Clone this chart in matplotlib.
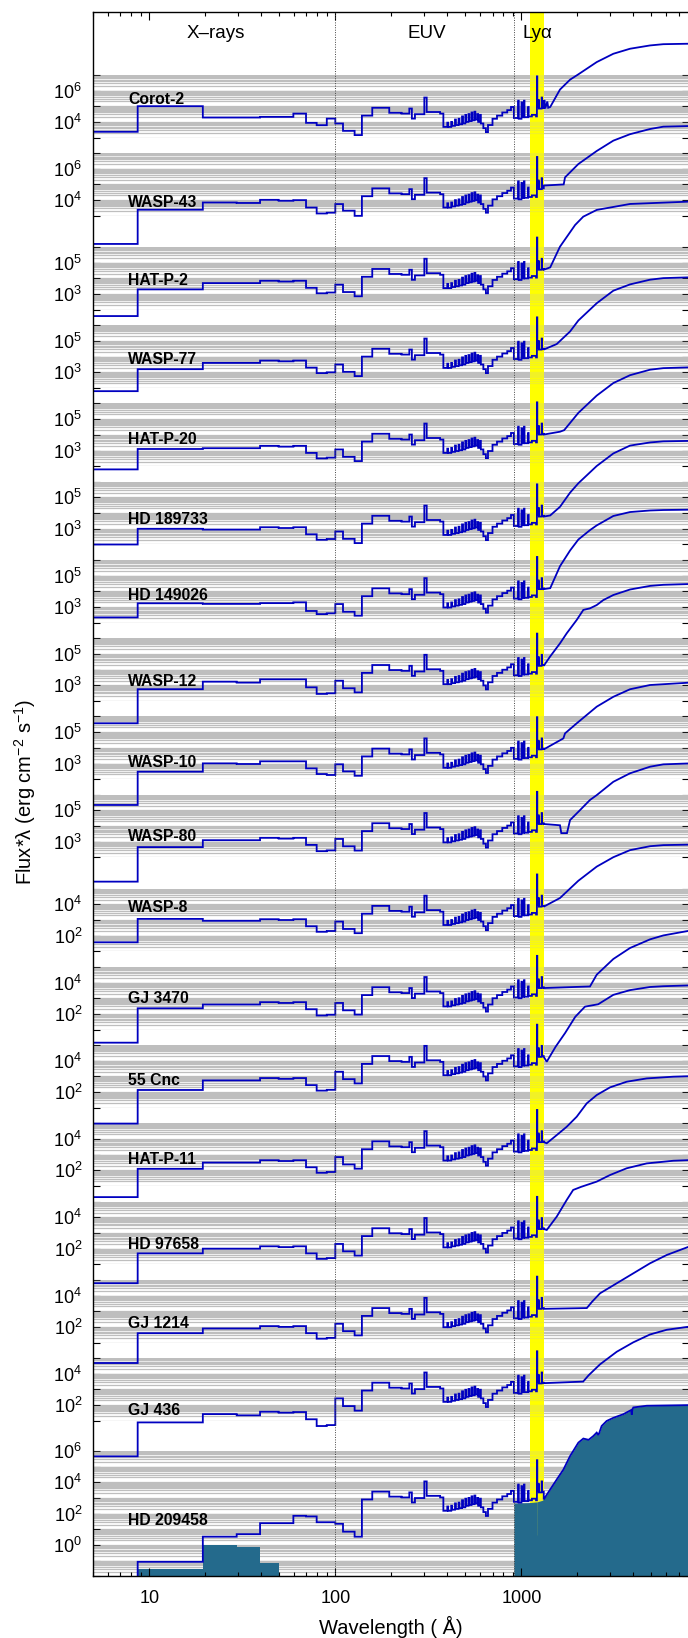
import numpy as np
import matplotlib
matplotlib.use("Agg")
import matplotlib.pyplot as plt
from matplotlib.ticker import FixedLocator, NullLocator, FuncFormatter, NullFormatter

plt.rcParams['font.family'] = ['Liberation Sans', 'DejaVu Sans']
plt.rcParams['mathtext.fontset'] = 'custom'
plt.rcParams['mathtext.rm'] = 'Liberation Sans'
plt.rcParams['mathtext.it'] = 'Liberation Sans:italic'
plt.rcParams['mathtext.bf'] = 'Liberation Sans:bold'
plt.rcParams['mathtext.default'] = 'regular'

# ---------------------------------------------------------------- data
STARS = ["Corot-2", "WASP-43", "HAT-P-2", "WASP-77", "HAT-P-20", "HD 189733",
         "HD 149026", "WASP-12", "WASP-10", "WASP-80", "WASP-8", "GJ 3470",
         "55 Cnc", "HAT-P-11", "HD 97658", "GJ 1214", "GJ 436", "HD 209458"]

# log10 range of each panel and the decades that carry a label
Y_LO = [3, 3, 2, 2, 2, 2, 2, 2, 2, 2, 1, 1, 1, 1, 1, 1, 1, -2]
Y_HI = [7, 7, 6, 6, 6, 6, 6, 6, 6, 6, 5, 5, 5, 5, 5, 5, 5, 6]
Y_LABELED = [[4, 6], [4, 6], [3, 5], [3, 5], [3, 5], [3, 5], [3, 5], [3, 5],
             [3, 5], [3, 5], [2, 4], [2, 4], [2, 4], [2, 4], [2, 4], [2, 4],
             [2, 4], [0, 2, 4, 6]]

# X-ray and short-EUV bins (Angstrom), log10 flux per star
XRAY_EDGES = [5, 8.66, 19.4, 29.5, 39.4, 49.6, 59.5, 69.6, 79.4, 90, 100,
              110, 127, 139]
XRAY_LOGF = [
    [3.37, 5.00, 4.28, 4.28, 4.32, 4.32, 4.53, 3.94, 3.79, 4.21, 3.90, 3.43, 3.16],
    [1.21, 3.39, 3.85, 3.82, 4.02, 3.96, 4.00, 3.53, 3.15, 3.20, 3.75, 3.33, 3.00],
    [1.60, 3.30, 3.70, 3.70, 3.85, 3.80, 3.85, 3.40, 3.05, 3.10, 3.60, 3.13, 2.86],
    [1.80, 3.20, 3.60, 3.60, 3.75, 3.70, 3.75, 3.30, 2.95, 3.00, 3.50, 3.03, 2.76],
    [1.80, 3.10, 3.15, 3.15, 3.30, 3.25, 3.30, 2.85, 2.50, 2.55, 3.07, 2.60, 2.33],
    [2.00, 3.00, 2.95, 2.95, 3.10, 3.05, 3.10, 2.65, 2.30, 2.35, 2.83, 2.36, 2.09],
    [2.34, 3.24, 3.20, 3.20, 3.25, 3.25, 3.30, 2.75, 2.55, 2.60, 3.19, 2.70, 2.45],
    [0.58, 2.75, 3.23, 3.17, 3.38, 3.38, 3.38, 2.87, 2.45, 2.49, 3.29, 2.81, 2.55],
    [0.36, 2.48, 3.01, 2.97, 3.14, 3.14, 3.14, 2.69, 2.33, 2.27, 2.95, 2.50, 2.22],
    [0.46, 2.66, 3.10, 3.10, 3.25, 3.20, 3.25, 2.80, 2.40, 2.45, 3.18, 2.71, 2.44],
    [1.58, 3.07, 2.95, 2.95, 3.05, 3.00, 3.05, 2.60, 2.25, 2.30, 2.90, 2.43, 2.16],
    [0.17, 2.36, 2.60, 2.60, 2.75, 2.70, 2.75, 2.30, 1.90, 1.95, 2.70, 2.23, 1.96],
    [0.00, 2.14, 2.75, 2.75, 2.90, 2.85, 2.90, 2.45, 2.10, 2.15, 3.30, 2.83, 2.56],
    [0.30, 2.10, 2.50, 2.50, 2.65, 2.60, 2.65, 2.20, 1.85, 1.90, 2.85, 2.38, 2.11],
    [-0.20, 1.70, 2.00, 2.00, 2.15, 2.10, 2.15, 1.70, 1.35, 1.40, 2.30, 1.83, 1.56],
    [-0.30, 1.60, 1.90, 1.90, 2.05, 2.00, 2.05, 1.60, 1.25, 1.30, 2.20, 1.73, 1.46],
    [-1.26, 0.90, 1.43, 1.35, 1.58, 1.52, 1.56, 1.10, 0.67, 0.73, 2.43, 1.94, 1.65],
    [-2.60, -1.07, 0.53, 0.69, 1.39, 1.39, 1.86, 1.82, 1.45, 1.45, 1.35, 0.85, 0.53],
]

# EUV / FUV bins shared by all stars, log10 flux relative to each EUV_LEVEL
EUV_EDGES = [139, 158, 195, 227, 250, 258, 268, 301, 310, 366, 381, 400, 404,
             420, 424, 440, 445, 460, 465, 480, 486, 500, 505, 520, 526, 540,
             546, 560, 566, 580, 586, 600, 606, 625, 645, 662, 700, 740, 790,
             840, 880, 912, 962, 968, 1002, 1008, 1034, 1040, 1088, 1094,
             1140, 1200, 1213, 1219, 1236, 1242, 1286, 1292, 1320]
EUV_REL = [0.50, 1.00, 0.68, 0.63, 0.95, 0.31, 0.59, 1.65, 0.73, 0.63,
           -0.22, 0.05, -0.22, 0.10, -0.15, 0.25, -0.10, 0.30, -0.05, 0.45,
           0.00, 0.55, 0.10, 0.60, 0.15, 0.70, 0.20, 0.75, 0.25, 0.60,
           0.10, 0.55, 0.00, -0.30, -0.55, -0.10, 0.30, 0.50, 0.70, 0.85,
           1.05, 0.35, 1.45, 0.30, 1.35, 0.40, 1.45, 0.40, 1.05, 0.45,
           0.55, 0.45, 3.00, 1.05, 1.50, 0.95, 1.65, 1.00]
EUV_LEVEL = [3.90, 3.75, 3.60, 3.50, 3.07, 2.83, 3.19, 3.29, 2.95, 3.18, 2.90,
             2.70, 3.30, 2.85, 2.30, 2.20, 2.43, 2.40]

# near-UV / optical continuum of each star: wavelength (A), log10 flux
OPT_WAVE = [
    [1320, 1330, 1345, 1380, 1395, 1430, 1614, 1828, 2026, 2543, 3124, 3840, 4920, 5800, 8000],
    [1320, 1690, 1718, 2026, 2543, 3124, 3840, 4918, 5800, 8000],
    [1320, 1430, 1614, 1946, 2152, 2543, 3840, 8000],
    [1320, 1550, 1828, 2026, 2543, 3124, 3840, 4920, 5800, 8000],
    [1320, 1614, 1700, 2026, 2543, 3124, 3840, 4920, 5800, 8000],
    [1320, 1430, 1614, 1828, 2026, 2543, 3124, 3840, 4920, 5800, 8000],
    [1320, 1430, 1614, 1828, 2026, 2340, 2543, 3124, 3840, 4920, 5800, 8000],
    [1320, 1426, 1614, 1754, 1985, 2155, 2339, 2543, 2762, 3124, 3840, 4920, 5800, 8000],
    [1320, 1683, 1718, 1985, 2247, 2543, 3124, 3840, 4918, 8000],
    [1320, 1614, 1640, 1760, 1828, 2070, 2339, 2543, 3124, 3840, 4918, 5800, 8000],
    [1320, 1614, 1828, 2026, 2543, 3124, 3840, 4920, 5800, 8000],
    [1320, 2340, 2543, 3124, 3840, 4920, 5800, 8000],
    [1320, 1370, 1530, 1720, 1950, 2200, 2590, 3124, 3840, 4920, 5800, 8000],
    [1320, 1370, 1550, 1754, 1985, 2247, 2543, 2998, 3686, 4722, 6564, 8000],
    [1320, 1370, 1550, 1754, 1900, 2100, 2543, 2998, 3686, 4722, 6564, 8000],
    [1320, 2250, 2400, 2650, 3258, 3998, 4918, 6050, 8000],
    [1320, 2150, 2300, 2650, 3258, 3998, 4918, 6050, 8000],
    [1320, 1370, 1550, 1683, 1828, 2026, 2155, 2300, 2438, 2543, 2600, 2703,
     2875, 3124, 3535, 3900, 3924, 3950, 4000, 4722, 8000],
]
OPT_LOGF = [
    [4.85, 5.40, 4.85, 5.30, 4.90, 4.95, 6.06, 6.69, 7.03, 7.81, 8.34, 8.66, 8.87, 8.95, 8.98],
    [4.93, 5.00, 5.45, 6.30, 7.13, 7.79, 8.20, 8.53, 8.68, 8.72],
    [4.55, 4.70, 6.02, 7.40, 7.93, 8.36, 8.74, 8.89],
    [4.45, 4.80, 5.60, 6.30, 7.40, 8.20, 8.60, 8.90, 9.00, 9.05],
    [4.02, 4.20, 4.30, 5.40, 6.50, 7.30, 7.80, 8.15, 8.25, 8.30],
    [3.78, 3.85, 4.40, 5.30, 5.90, 7.00, 7.80, 8.30, 8.50, 8.57, 8.60],
    [4.14, 4.20, 5.60, 6.60, 7.30, 7.90, 8.20, 8.80, 9.05, 9.15, 9.18, 9.20],
    [4.24, 4.82, 5.67, 6.31, 7.16, 7.80, 7.90, 8.11, 8.43, 8.75, 9.10, 9.33, 9.40, 9.45],
    [3.90, 4.60, 4.92, 5.56, 6.09, 6.62, 7.25, 7.73, 8.00, 8.15],
    [4.13, 4.05, 3.55, 3.55, 4.38, 5.02, 5.66, 5.97, 6.82, 7.36, 7.78, 7.93, 7.99],
    [3.85, 4.40, 5.00, 5.50, 6.40, 7.00, 7.45, 7.70, 7.77, 7.80],
    [3.65, 3.75, 4.50, 5.50, 6.20, 6.75, 7.00, 7.30],
    [4.25, 3.94, 4.90, 5.77, 6.80, 7.45, 7.60, 8.20, 8.50, 8.70, 8.75, 8.80],
    [3.80, 3.73, 4.25, 4.78, 5.42, 6.27, 6.80, 7.29, 7.65, 7.86, 7.97, 8.00],
    [3.25, 3.19, 4.04, 5.10, 5.74, 5.94, 6.27, 6.69, 7.12, 7.43, 7.60, 7.64],
    [3.15, 3.20, 3.60, 4.14, 4.78, 5.41, 6.05, 6.58, 7.12],
    [3.40, 3.50, 3.90, 4.60, 5.40, 6.00, 6.50, 6.80, 7.00],
    [2.90, 3.20, 4.17, 4.80, 5.66, 6.52, 6.78, 6.70, 6.94, 7.16, 7.00, 7.58,
     7.90, 8.10, 8.33, 8.60, 8.30, 8.60, 8.76, 8.87, 8.91],
]

# log10 baseline height of each star's name label
NAME_LOGF = [5.12, 3.54, 3.60, 3.50, 3.40, 3.30, 3.44, 2.95, 2.80, 3.06, 3.52,
             2.67, 2.45, 2.40, 2.00, 1.90, 1.37, 1.28]

# HD 209458: photospheric model and X-ray band fluxes (filled)
PHOT_WAVE = [912, 1100, 1214.5, 1215.0, 1216.3, 1216.8, 1300, 1370, 1550,
             1683, 1828, 2026, 2155, 2300, 2438, 2543, 2600, 2703, 2875, 3124,
             3535, 3900, 3924, 3950, 4000, 4722, 8000]
PHOT_LOGF = [2.67, 2.70, 2.75, 0.64, 0.64, 2.75, 2.85, 3.20, 4.17, 4.80, 5.66,
             6.52, 6.78, 6.70, 6.94, 7.16, 7.00, 7.58, 7.90, 8.10, 8.33, 8.60,
             8.30, 8.60, 8.76, 8.87, 8.91]
XBAR_EDGES = [8.66, 19.4, 29.5, 39.4, 49.6]
XBAR_LOGF = [-1.54, 0.00, -0.13, -1.13]

LYA_BAND = (1110, 1330)
X_RANGE = (5, 8000)

# ---------------------------------------------------------------- style
BLUE = '#0000c0'
TEAL = '#246a8c'
GRID = '#bebebe'
YELLOW = '#ffff00'

W, H = 688, 1638
fig = plt.figure(figsize=(W / 100, H / 100), dpi=100)

X0, X1 = 93.3, 689.3      # frame left/right (px)
T0, B0 = 12.3, 1575.7     # frame top/bottom (px from top)
DEC = 15.7                # px per decade
PITCH = 78.24
P0 = [184.7 + i * PITCH for i in range(17)] + [1545.0]


def rect(left, top, right, bottom):
    return [left / W, 1 - bottom / H, (right - left) / W, (bottom - top) / H]


# background: Lyman-alpha band
bg = fig.add_axes(rect(X0, T0, X1, B0), zorder=0)
bg.set_xscale('log')
bg.set_xlim(*X_RANGE)
bg.set_ylim(0, 1)
bg.axvspan(*LYA_BAND, color=YELLOW, lw=0)
bg.set_axis_off()

# frame on top with the wavelength axis
fr = fig.add_axes(rect(X0, T0, X1, B0), zorder=10)
fr.patch.set_visible(False)
fr.set_xscale('log')
fr.set_xlim(*X_RANGE)
fr.set_ylim(0, 1)
fr.yaxis.set_major_locator(NullLocator())
fr.xaxis.set_major_locator(FixedLocator([10, 100, 1000]))
fr.xaxis.set_major_formatter(FuncFormatter(lambda v, p: f"{v:g}"))
fr.xaxis.set_minor_locator(FixedLocator(
    [m * 10.0 ** k for k in range(0, 4) for m in range(2, 10)
     if X_RANGE[0] <= m * 10.0 ** k <= X_RANGE[1]]))
fr.xaxis.set_minor_formatter(NullFormatter())
fr.tick_params(axis='x', which='major', direction='in', top=True, length=6,
               width=0.8, labelsize=13, pad=10)
fr.tick_params(axis='x', which='minor', direction='in', top=True, length=3,
               width=0.8)
for s in fr.spines.values():
    s.set_linewidth(1.0)
fr.axvline(100, ls=(0, (1, 1.5)), color='#444444', lw=0.7)
fr.axvline(912, ls=(0, (1, 1.5)), color='#444444', lw=0.7)

tr = fr.get_xaxis_transform()
ytxt = (B0 - 33) / (B0 - T0)
fr.text(22.9, ytxt, "X\u2013rays", transform=tr, ha='center', va='center',
        fontsize=13.5)
fr.text(310, ytxt, "EUV", transform=tr, ha='center', va='center',
        fontsize=13.5)
fr.text(1018, ytxt, "Ly\u03b1", transform=tr, ha='left', va='center',
        fontsize=13.5)

fig.text(391 / W, 1 - 1626.7 / H, "Wavelength ( \u00c5)", ha='center',
         va='center', fontsize=14.5)
fig.text(24.6 / W, 1 - 792 / H, "Flux*\u03bb (erg cm$^{-2}$ s$^{-1}$)",
         ha='center', va='center', rotation=90, fontsize=14.5)


def spectrum(i):
    xs, ys = [], []
    for k, v in enumerate(XRAY_LOGF[i]):
        xs += [XRAY_EDGES[k], XRAY_EDGES[k + 1]]
        ys += [v, v]
    for k, r in enumerate(EUV_REL):
        xs += [EUV_EDGES[k], EUV_EDGES[k + 1]]
        ys += [EUV_LEVEL[i] + r] * 2
    xs += OPT_WAVE[i]
    ys += OPT_LOGF[i]
    return np.array(xs), 10.0 ** np.array(ys)


for i, name in enumerate(STARS):
    lo, hi = Y_LO[i], Y_HI[i]
    top = P0[i] - hi * DEC
    bot = P0[i] - lo * DEC
    box = rect(X0, top, X1, bot)

    ga = fig.add_axes(box, zorder=1)
    ga.patch.set_visible(False)
    ga.set_xscale('log')
    ga.set_yscale('log')
    ga.set_xlim(*X_RANGE)
    ga.set_ylim(10.0 ** lo, 10.0 ** hi)
    for s in ga.spines.values():
        s.set_visible(False)
    ga.xaxis.set_major_locator(NullLocator())
    ga.xaxis.set_minor_locator(NullLocator())
    ga.yaxis.set_major_locator(FixedLocator([10.0 ** k for k in range(lo, hi + 1)]))
    ga.yaxis.set_minor_locator(FixedLocator(
        [m * 10.0 ** k for k in range(lo, hi) for m in range(2, 10)]))
    labeled = Y_LABELED[i]
    ga.yaxis.set_major_formatter(FuncFormatter(
        lambda v, p, lab=labeled: (r"$10^{%d}$" % round(np.log10(v)))
        if round(np.log10(v)) in lab else ""))
    ga.yaxis.set_minor_formatter(NullFormatter())
    ga.tick_params(axis='y', which='major', direction='in', length=5, width=0.8,
                   left=True, right=True, labelsize=13, pad=8)
    ga.tick_params(axis='y', which='minor', length=0)
    ga.set_axisbelow(True)
    ga.grid(True, axis='y', which='both', color=GRID, lw=0.9)
    ga.axvspan(*LYA_BAND, color=YELLOW, lw=0, alpha=0.8, zorder=1)

    da = fig.add_axes(box, zorder=2)
    da.set_xscale('log')
    da.set_yscale('log')
    da.set_xlim(*X_RANGE)
    da.set_ylim(10.0 ** lo, 10.0 ** hi)
    da.set_axis_off()

    if name == "HD 209458":
        base = 10.0 ** lo
        f = da.fill_between(PHOT_WAVE, base, 10.0 ** np.array(PHOT_LOGF),
                            color=TEAL, lw=0, zorder=1)
        f.set_clip_path(bg.patch)
        st = da.stairs(10.0 ** np.array(XBAR_LOGF), XBAR_EDGES, baseline=base,
                       fill=True, color=TEAL, lw=0, zorder=1)
        st.set_clip_path(bg.patch)

    x, y = spectrum(i)
    ln, = da.plot(x, y, color=BLUE, lw=1.3, zorder=3, solid_joinstyle='miter')
    ln.set_clip_path(bg.patch)
    da.text(7.7, 10.0 ** NAME_LOGF[i], name, fontsize=11.3, fontweight='bold',
            ha='left', va='baseline', zorder=4, clip_on=False)

fig.savefig("out.png", dpi=100)
